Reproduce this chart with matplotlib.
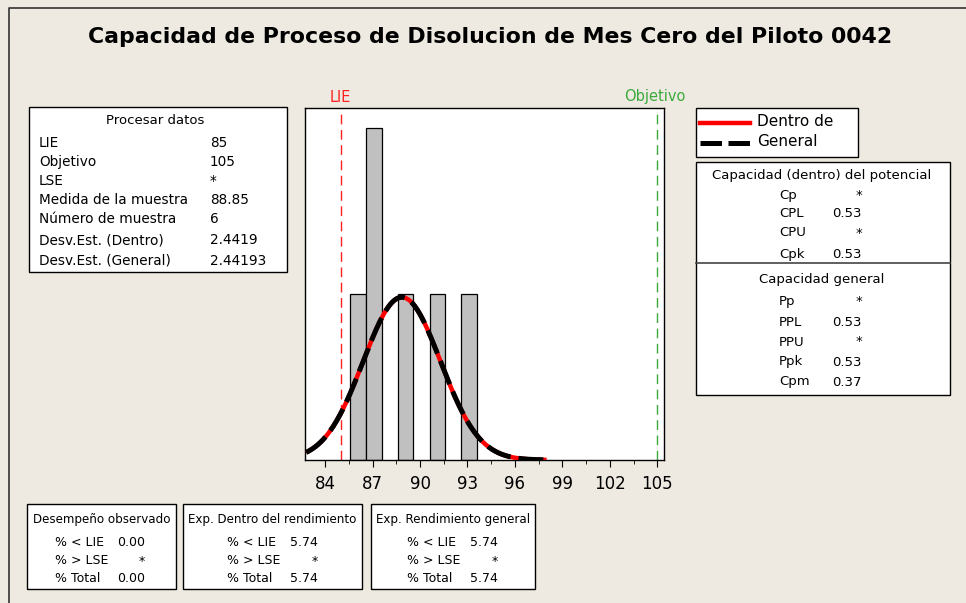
import numpy as np
import matplotlib
matplotlib.use("Agg")
import matplotlib.pyplot as plt
from matplotlib.patches import Rectangle
from matplotlib.lines import Line2D

W, H = 966, 603
BG = "#EEEAE1"

# histogram data (bin left edges, counts)
bin_left = [85.6, 86.6, 88.6, 90.6, 92.6]
bin_counts = [1, 2, 1, 1, 1]
bin_width = 0.97

lie = 85
objetivo = 105
mean = 88.85
sd_within = 2.4419
sd_overall = 2.44193
n_obs = 6

proc_labels = ["LIE", "Objetivo", "LSE", "Medida de la muestra", "Número de muestra",
               "Desv.Est. (Dentro)", "Desv.Est. (General)"]
proc_values = ["85", "105", "*", "88.85", "6", "2.4419", "2.44193"]

cap_within_labels = ["Cp", "CPL", "CPU", "Cpk"]
cap_within_values = ["*", "0.53", "*", "0.53"]
cap_overall_labels = ["Pp", "PPL", "PPU", "Ppk", "Cpm"]
cap_overall_values = ["*", "0.53", "*", "0.53", "0.37"]

perf_titles = ["Desempeño observado", "Exp. Dentro del rendimiento", "Exp. Rendimiento general"]
perf_labels = ["% < LIE", "% > LSE", "% Total"]
perf_values = [["0.00", "*", "0.00"], ["5.74", "*", "5.74"], ["5.74", "*", "5.74"]]

xticks = [84, 87, 90, 93, 96, 99, 102, 105]

plt.rcParams["font.family"] = ["DejaVu Sans"]
fig = plt.figure(figsize=(W / 100, H / 100), dpi=100, facecolor=BG)


def fx(px):
    return px / W


def fy(py):
    return 1 - py / H


def box(x0, y0, x1, y1):
    fig.patches.append(Rectangle((fx(x0), fy(y1)), fx(x1) - fx(x0), fy(y0) - fy(y1),
                                 transform=fig.transFigure, facecolor="white",
                                 edgecolor="black", lw=1.0))


def txt(x, y, s, ha="left", size=9.5, **kw):
    fig.text(fx(x), fy(y), s, ha=ha, va="center", fontsize=size, **kw)


# frame border (top/left visible)
fig.add_artist(Line2D([fx(9), fx(9), 1], [0, fy(8), fy(8)], transform=fig.transFigure,
                      color="#333333", lw=1.2))

fig.text(fx(490), fy(37), "Capacidad de Proceso de Disolucion de Mes Cero del Piloto 0042",
         ha="center", va="center", fontsize=15.8, fontweight="bold")

# histogram
ax = fig.add_axes([fx(305), fy(460), fx(664) - fx(305), fy(108) - fy(460)])
ax.set_facecolor("white")
ax.bar(bin_left, bin_counts, width=bin_width, align="edge", color="#C0C0C0",
       edgecolor="black", lw=0.9, zorder=2)

xs = np.linspace(82.8, 98.0, 300)
scale = n_obs * 1.0
y_in = scale * np.exp(-0.5 * ((xs - mean) / sd_within) ** 2) / (sd_within * np.sqrt(2 * np.pi))
y_ov = scale * np.exp(-0.5 * ((xs - mean) / sd_overall) ** 2) / (sd_overall * np.sqrt(2 * np.pi))
ax.plot(xs, y_in, color="red", lw=3.2, zorder=3, solid_capstyle="butt")
ax.plot(xs, y_ov, color="black", lw=3.6, ls=(0, (5, 1.6)), zorder=4)

ax.axvline(lie, color="#FF2020", ls=(0, (7, 4)), lw=1.0, zorder=1)
ax.axvline(objetivo, color="#3BAA3B", ls=(0, (7, 4)), lw=1.0, zorder=1)

ax.set_xlim(82.73, 105.42)
ax.set_ylim(0, 2.12)
ax.set_yticks([])
ax.set_xticks(xticks)
ax.set_xticks([x + 1.5 for x in xticks[:-1]], minor=True)
ax.tick_params(axis="x", which="major", length=5, labelsize=12, pad=6)
ax.tick_params(axis="x", which="minor", length=3)
for s in ax.spines.values():
    s.set_linewidth(1.0)

txt(340, 97, "LIE", ha="center", size=10.5, color="#FF2020")
txt(655, 97, "Objetivo", ha="center", size=10.5, color="#3BAA3B")

# process data box
box(29, 107, 287, 272)
txt(155, 121, "Procesar datos", ha="center")
for lab, val, y in zip(proc_labels, proc_values, [143, 162, 181, 200, 219, 240, 261]):
    txt(39, y, lab, size=9.8)
    txt(210, y, val, size=9.8)

# legend
box(696, 108, 858, 157)
fig.add_artist(Line2D([fx(700), fx(750)], [fy(123), fy(123)], transform=fig.transFigure,
                      color="red", lw=3.2))
fig.add_artist(Line2D([fx(700), fx(750)], [fy(143), fy(143)], transform=fig.transFigure,
                      color="black", lw=3.6, ls=(0, (4.3, 1.3))))
txt(757, 122, "Dentro de", size=11)
txt(757, 142, "General", size=11)

# capability box
box(696, 162, 950, 395)
fig.add_artist(Line2D([fx(696), fx(950)], [fy(263), fy(263)], transform=fig.transFigure,
                      color="#444444", lw=1.2))
txt(822, 175, "Capacidad (dentro) del potencial", ha="center")
for lab, val, y in zip(cap_within_labels, cap_within_values, [195, 214, 233, 254]):
    txt(779, y, lab)
    txt(862, y, val, ha="right")
txt(822, 280, "Capacidad general", ha="center")
for lab, val, y in zip(cap_overall_labels, cap_overall_values, [301, 323, 342, 362, 382]):
    txt(779, y, lab)
    txt(862, y, val, ha="right")

# performance boxes
box_x = [(27, 176), (183, 362), (371, 535)]
lab_x = [55, 227, 407]
val_x = [145, 318, 498]
for (x0, x1), title, lx, vx, vals in zip(box_x, perf_titles, lab_x, val_x, perf_values):
    box(x0, 504, x1, 589)
    txt((x0 + x1) / 2, 520, title, ha="center", size=8.6)
    for lab, val, y in zip(perf_labels, vals, [542, 561, 578]):
        txt(lx, y, lab, size=9)
        txt(vx, y, val, ha="right", size=9)

fig.savefig("out.png", dpi=100, facecolor=BG)
